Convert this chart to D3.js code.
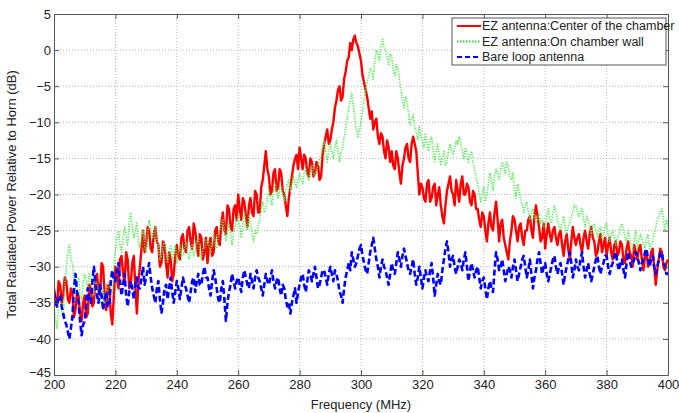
<!DOCTYPE html>
<html>
<head>
<meta charset="utf-8">
<script src="https://cdn.jsdelivr.net/npm/d3@7"></script>
<style>
  body { margin: 0; background: #fff; }
  svg { font-family: "Liberation Sans", Arial, sans-serif; }
</style>
</head>
<body>
<div id="main-svg"></div>
<script>
// frequency axis, one sample every 0.5 MHz from 200 to 400
var freqStart = 200;
var freqStep = 0.5;

// EZ antenna, center of the chamber (dB), 20 samples per row = 10 MHz
var centerValues = [
  -33, -34.5, -35.5, -32, -32.5, -35, -34, -31.5, -32, -34.5, -35, -33, -33.5, -37, -36, -33.5, -34, -36.5, -37.5, -35,
  -34, -37, -36.5, -32.5, -33, -35.5, -35, -31.5, -31, -33.5, -34, -29.5, -30, -34, -36, -32.5, -33, -36.5, -38, -34,
  -30, -31.5, -33, -29, -28.5, -31, -32, -28, -29, -33, -32.5, -29.5, -28.5, -33, -36.5, -32, -30, -27.5, -25, -28,
  -27, -24.5, -25, -27.5, -28, -25.5, -24.5, -26.5, -27, -30, -29.5, -26.5, -27, -29.5, -31.5, -28, -29, -32, -31, -28.5,
  -27, -28.5, -29, -26, -25.5, -27.5, -28, -25, -24.5, -26.5, -27.5, -24, -25, -27, -28.5, -25.5, -26, -29, -28, -26,
  -29.5, -27, -26, -28.5, -28, -25, -24.5, -26.5, -27, -24, -22.5, -25, -25.5, -21.5, -22, -24.5, -25, -22, -21.5, -23.5,
  -20, -22, -23.5, -20.5, -21, -23, -24.5, -21.5, -20.5, -22.5, -23, -19.5, -20, -22.5, -22.5, -19, -18, -16, -14, -16.5,
  -17.5, -20, -19.5, -17, -16.5, -19.5, -19, -16.5, -17, -19.5, -20, -21.5, -23, -20.5, -19, -17.5, -16, -15, -14.5, -16.5,
  -13.5, -15, -16.5, -14.5, -15, -17, -17.5, -15, -15.5, -17.5, -17, -15.5, -16, -18, -17.5, -14.5, -13, -12, -11, -13,
  -12.5, -11, -10, -8, -7, -5.5, -5, -7, -6.5, -4, -3, -1.5, -1, 1, 0, 1.5, 2, 1, 0.5, -0.5,
  -1.5, -3.5, -4.5, -5.5, -6.5, -8, -9.5, -8.5, -11, -10, -9.5, -12, -13, -11.5, -12, -14, -15, -12.5, -13.5, -15.5,
  -14, -16, -16.5, -14, -15, -17, -18.5, -16, -15, -13.5, -13, -15, -15.5, -13, -12, -13, -14, -17, -20, -18.5,
  -19, -20.5, -21, -18.5, -18, -21, -20.5, -19, -18.5, -21.5, -20, -19, -21.5, -23, -24, -21.5, -19.5, -18.5, -17.5, -19.5,
  -20, -21.5, -18, -19.5, -21, -18.5, -17.5, -20, -20, -18.5, -19, -21, -21.5, -19.5, -20, -22, -22, -23.5, -24.5, -22.5,
  -23, -25, -26.5, -24, -22.5, -24.5, -25, -22.5, -21, -23.5, -26.5, -24, -23.5, -26, -27, -28, -29, -26.5, -25, -23,
  -23.5, -25, -26.5, -24.5, -24, -26, -27, -25, -25, -23.5, -23, -25, -26, -23, -21.5, -23, -24.5, -26.5, -26, -24,
  -27.5, -25.5, -24, -25.5, -26.5, -25, -24.5, -26, -27, -25.5, -25, -27, -28.5, -26.5, -25.5, -27.5, -29, -26.5, -24.5, -26,
  -27, -26, -25.5, -27, -28, -26, -25, -26.5, -27.5, -25.5, -24.5, -26, -26.5, -28.5, -28, -26.5, -25.5, -28, -27, -26,
  -28.5, -27, -26, -28, -29, -27, -26.5, -28.5, -28, -26.5, -27, -29, -29.5, -27.5, -26.5, -28, -28.5, -30, -27, -28,
  -29, -27.5, -27, -29, -30.5, -28.5, -28, -30, -29.5, -28, -27.5, -30, -32.5, -30.5, -29, -27.5, -28, -30, -30.5, -29.5,
  -29
];

// EZ antenna, on chamber wall (dB)
var wallValues = [
  -35.5, -37.5, -38.5, -35, -34, -36, -37, -33, -30, -28, -27, -29, -29.5, -31.5, -33, -32, -31.5, -34, -34.5, -32,
  -31, -32, -33, -31, -31.5, -33.5, -34, -32, -32.5, -34, -35, -33.5, -33, -35, -34.5, -32.5, -32, -33, -33.5, -30,
  -27.5, -26, -25, -27, -28, -26, -24.5, -26, -27, -24, -22.5, -24.5, -26, -25, -24, -26.5, -27.5, -26, -25, -27,
  -28, -25.5, -23.5, -25, -26, -25.5, -24.5, -26.5, -27, -29, -28.5, -27, -26.5, -28, -29.5, -28, -27, -29, -28, -27,
  -29.5, -28, -27, -28.5, -28.5, -27.5, -26.5, -28, -29, -27.5, -27, -28.5, -28, -26.5, -26, -28, -29, -27.5, -27.5, -26.5,
  -26, -27, -28, -26.5, -25.5, -27, -27.5, -25.5, -25, -24, -23.5, -25, -26.5, -25, -24, -25.5, -27, -25.5, -24.5, -23.5,
  -23, -24.5, -26, -24, -22.5, -24, -25, -23, -24, -25.5, -26.5, -25, -25.5, -24.5, -23.5, -22, -21, -22.5, -22, -20.5,
  -19.5, -20.5, -21.5, -19.5, -18.5, -19.5, -20.5, -19, -19, -20, -21, -19.5, -18.5, -18, -19.5, -18.5, -17.5, -18.5, -19, -18,
  -17, -18, -18.5, -17, -16.5, -17.5, -18, -16.5, -16, -17, -17.5, -16.5, -16, -15, -14.5, -13.5, -12.5, -14, -15.5, -14,
  -13, -14, -15, -13.5, -12.5, -14, -15.5, -14, -13.5, -12, -11, -9.5, -8, -7, -6, -7.5, -9.5, -11, -12, -11,
  -10, -8.5, -7, -5.5, -4.5, -3.5, -2.5, -3, -4, -1.5, 0, -0.5, -1.5, 0.5, 1.5, 0.5, 0, -1, -2, -0.5,
  -1, -2.5, -3.5, -2, -2.5, -4, -5.5, -7, -8, -6.5, -7, -9, -10.5, -9.5, -9, -10.5, -11.5, -12.5, -10.5, -12,
  -12.5, -13.5, -11.5, -13, -14, -12.5, -12, -14, -15.5, -14, -13, -14.5, -16, -15, -14, -16, -15.5, -14, -13, -14,
  -14.5, -13.5, -12.5, -13, -12, -13, -14, -15, -13.5, -14.5, -15.5, -14.5, -14, -15.5, -16.5, -17.5, -18.5, -20, -21, -20,
  -19, -21, -20, -18.5, -17, -18, -19.5, -17.5, -16.5, -17, -18, -16.5, -15.5, -16, -17, -15.5, -16, -17.5, -18, -17,
  -19.5, -20.5, -18.5, -19.5, -20.5, -21.5, -22.5, -21.5, -21, -22.5, -23.5, -22.5, -22, -23, -24, -23.5, -22.5, -24, -23.5, -24.5,
  -24.5, -23, -22, -23.5, -24, -22.5, -21.5, -22.5, -23.5, -24.5, -25, -24, -23, -24.5, -25.5, -24.5, -24, -23, -22.5, -21.5,
  -21.5, -22.5, -23, -22.5, -22, -23.5, -24.5, -23, -23.5, -24.5, -25.5, -24.5, -24, -25, -26, -25, -24.5, -26, -25.5, -24.5,
  -24, -25.5, -26.5, -25.5, -25, -26, -27, -26, -25.5, -24.5, -24, -25, -26, -26.5, -25, -26, -27, -27.5, -26, -25,
  -27.5, -26.5, -25.5, -26, -27, -27.5, -26, -25.5, -27.5, -27, -26.5, -25.5, -24.5, -23.5, -23, -22.5, -22, -23.5, -25, -23.5,
  -24.5
];

// bare loop antenna (dB)
var loopValues = [
  -33.5, -35, -35.5, -34, -34, -35.5, -36.5, -37.5, -38, -39, -40, -38.5, -37, -33, -31, -33.5, -35, -37.5, -39.5, -38,
  -37.5, -35, -33, -34.5, -35, -32, -30, -32.5, -34, -35, -32.5, -34, -36, -34.5, -33.5, -35.5, -35.5, -32, -30.5, -32,
  -32, -30.5, -29.5, -32, -34, -32.5, -31, -34, -35.5, -33.5, -32, -33, -34.5, -32.5, -31.5, -33, -33, -31.5, -30, -32.5,
  -31.5, -30.5, -29.5, -31.5, -33, -34, -35, -33, -32, -34.5, -36.5, -35, -33, -32.5, -34.5, -33, -31.5, -33.5, -35, -33.5,
  -32, -33, -34.5, -33, -31.5, -32.5, -33, -34, -35, -33.5, -32, -31.5, -33.5, -32, -31, -32.5, -32.5, -31, -30, -31.5,
  -31.5, -33, -34, -32, -30.5, -31.5, -33, -34.5, -35, -33, -32, -34.5, -37.5, -35, -33.5, -32.5, -31, -32, -33, -32,
  -31.5, -32.5, -33.5, -31.5, -30.5, -31.5, -32.5, -33, -31, -32, -33, -31.5, -30.5, -31.5, -32, -33, -34, -32.5, -31, -32,
  -32.5, -31.5, -30.5, -32, -33, -32, -31.5, -33, -34, -32.5, -33, -34.5, -35.5, -35, -36.5, -35, -34, -33, -35, -33.5,
  -32.5, -31.5, -31, -32.5, -33.5, -32, -30.5, -31, -32, -31, -30, -31.5, -33, -32.5, -31.5, -30.5, -30.5, -31.5, -32.5, -31,
  -30, -31, -32, -30.5, -31, -32, -33.5, -34, -35, -33, -31.5, -30.5, -29.5, -30.5, -28, -29, -30, -29.5, -28.5, -27.5,
  -27, -28.5, -29.5, -30.5, -31, -29.5, -28, -27, -26, -27.5, -29, -30, -31.5, -30, -29, -30, -30.5, -31.5, -32.5, -31,
  -29.5, -30.5, -31, -29.5, -28, -29, -30, -28.5, -27.5, -28.5, -29.5, -30.5, -31, -30, -29, -31, -32.5, -31.5, -30, -31.5,
  -33, -31.5, -30.5, -31.5, -32, -30.5, -29.5, -31.5, -34, -32.5, -31, -32, -32.5, -30.5, -29, -27.5, -26.5, -28, -30, -29,
  -28.5, -30, -31, -30, -29, -29.5, -30.5, -29, -28, -30, -32, -30.5, -29.5, -30.5, -31.5, -30.5, -30, -31.5, -33, -32,
  -31.5, -33, -34.5, -33, -32, -33, -33.5, -30.5, -28, -29, -30.5, -30, -29, -30.5, -32, -31, -30, -30.5, -31.5, -30,
  -29, -30.5, -32, -31, -30, -29, -28.5, -30, -31.5, -30.5, -29, -31, -33, -31.5, -30.5, -29, -28, -29.5, -31, -30,
  -29.5, -31, -32, -31, -30, -29, -28.5, -30, -31, -30, -29.5, -31, -32.5, -31, -30, -29, -28, -29.5, -31.5, -30.5,
  -29, -30, -30.5, -29, -28, -30, -31.5, -30.5, -29.5, -31, -32, -31, -30, -29, -28.5, -30, -31, -30, -29.5, -28.5,
  -28.5, -30, -31, -30, -29.5, -28.5, -28, -29.5, -30.5, -29.5, -29, -30.5, -31.5, -29.5, -28, -29, -30, -29.5, -29, -28,
  -28.5, -29.5, -30.5, -29.5, -29, -28, -27.5, -29, -30, -29, -28.5, -30, -31, -30, -29, -28, -28, -29.5, -30, -31,
  -31
];

var xTicks = [200, 220, 240, 260, 280, 300, 320, 340, 360, 380, 400];
var yTicks = [5, 0, -5, -10, -15, -20, -25, -30, -35, -40, -45];

var seriesNames = [
  "EZ antenna:Center of the chamber",
  "EZ antenna:On chamber wall",
  "Bare loop antenna"
];

function toPoints(values) {
  return values.map(function (v, i) {
    return { freq: freqStart + i * freqStep, db: v };
  });
}

var series = [
  { name: seriesNames[0], data: toPoints(centerValues), color: "#ff0000", width: 2.4, dash: null },
  { name: seriesNames[1], data: toPoints(wallValues), color: "#4cf04c", width: 1.6, dash: "1.2,1.4" },
  { name: seriesNames[2], data: toPoints(loopValues), color: "#0000ff", width: 2.6, dash: "6,3" }
];

var margin = { top: 14, right: 11, bottom: 38, left: 54 },
  width = 679 - margin.left - margin.right,
  height = 413 - margin.top - margin.bottom;

var svg = d3.select("#main-svg")
  .append("svg")
  .attr("width", 679)
  .attr("height", 413)
  .append("g")
  .attr("transform", "translate(" + margin.left + "," + margin.top + ")");

svg.append("clipPath")
  .attr("id", "plot-clip")
  .append("rect")
  .attr("width", width)
  .attr("height", height);

var x = d3.scaleLinear().domain([200, 400]).range([0, width]);
var y = d3.scaleLinear().domain([-45, 5]).range([height, 0]);

// dotted grid
svg.append("g")
  .selectAll("line")
  .data(xTicks.slice(1, -1))
  .enter().append("line")
  .attr("x1", function (d) { return x(d); })
  .attr("x2", function (d) { return x(d); })
  .attr("y1", 0)
  .attr("y2", height)
  .attr("stroke", "#b4b4b4")
  .attr("stroke-width", 1)
  .attr("stroke-dasharray", "1,2");

svg.append("g")
  .selectAll("line")
  .data(yTicks.slice(1, -1))
  .enter().append("line")
  .attr("x1", 0)
  .attr("x2", width)
  .attr("y1", function (d) { return y(d); })
  .attr("y2", function (d) { return y(d); })
  .attr("stroke", "#b4b4b4")
  .attr("stroke-width", 1)
  .attr("stroke-dasharray", "1,2");

// the three traces
var line = d3.line()
  .x(function (d) { return x(d.freq); })
  .y(function (d) { return y(d.db); });

var traces = svg.append("g").attr("clip-path", "url(#plot-clip)");

series.forEach(function (s) {
  traces.append("path")
    .datum(s.data)
    .attr("fill", "none")
    .attr("stroke", s.color)
    .attr("stroke-width", s.width)
    .attr("stroke-linejoin", "round")
    .attr("stroke-dasharray", s.dash)
    .attr("d", line);
});

// axes with inward ticks on all four sides
var axisColor = "#555";

var bottomAxis = svg.append("g")
  .attr("transform", "translate(0," + height + ")")
  .call(d3.axisBottom(x).tickValues(xTicks).tickSizeInner(-5).tickSizeOuter(0).tickPadding(5));
var leftAxis = svg.append("g")
  .call(d3.axisLeft(y).tickValues(yTicks).tickSizeInner(-5).tickSizeOuter(0).tickPadding(3));
var topAxis = svg.append("g")
  .call(d3.axisTop(x).tickValues(xTicks).tickSizeInner(-5).tickSizeOuter(0).tickFormat(""));
var rightAxis = svg.append("g")
  .attr("transform", "translate(" + width + ",0)")
  .call(d3.axisRight(y).tickValues(yTicks).tickSizeInner(-5).tickSizeOuter(0).tickFormat(""));

[bottomAxis, leftAxis, topAxis, rightAxis].forEach(function (a) {
  a.select(".domain").attr("stroke", axisColor);
  a.selectAll(".tick line").attr("stroke", axisColor);
  a.selectAll(".tick text")
    .attr("fill", "#222")
    .style("font-size", "13px")
    .style("font-family", "'Liberation Sans', Arial, sans-serif");
});

// the lowest y label sits right on top of the first x label, lift it a bit
leftAxis.selectAll(".tick text")
  .filter(function (d) { return d === -45; })
  .attr("dy", "0.1em");

// axis titles
svg.append("text")
  .attr("x", width / 2)
  .attr("y", height + 34)
  .attr("text-anchor", "middle")
  .attr("fill", "#222")
  .style("font-size", "13px")
  .text("Frequency (MHz)");

svg.append("text")
  .attr("transform", "rotate(-90)")
  .attr("x", -height / 2)
  .attr("y", -38)
  .attr("text-anchor", "middle")
  .attr("fill", "#222")
  .style("font-size", "13px")
  .text("Total Radiated Power Relative to Horn (dB)");

// legend
var legend = svg.append("g")
  .attr("transform", "translate(" + (width - 216) + ",4)");

legend.append("rect")
  .attr("x", 0)
  .attr("y", 0)
  .attr("width", 214)
  .attr("height", 47)
  .attr("fill", "#fff")
  .attr("stroke", "#555")
  .attr("stroke-width", 1);

var legendWidths = [2, 2, 2.2];
var legendDashes = [null, "1.5,1.5", "5,3"];
var legendColors = ["#ff0000", "#2fd82f", "#0000ff"];

series.forEach(function (s, i) {
  var rowY = 8 + i * 15.5;
  legend.append("line")
    .attr("x1", 5)
    .attr("x2", 29)
    .attr("y1", rowY)
    .attr("y2", rowY)
    .attr("stroke", legendColors[i])
    .attr("stroke-width", legendWidths[i])
    .attr("stroke-dasharray", legendDashes[i]);
  legend.append("text")
    .attr("x", 30)
    .attr("y", rowY)
    .attr("dy", "0.35em")
    .attr("fill", "#222")
    .style("font-size", "12.5px")
    .text(s.name);
});
</script>
</body>
</html>
